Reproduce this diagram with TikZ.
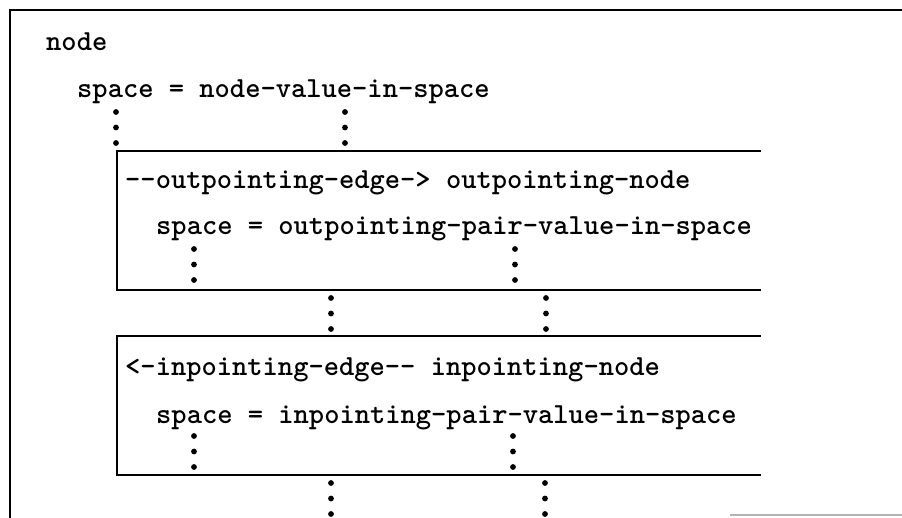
\documentclass[tikz,border=0pt]{standalone}
\usepackage{fontspec}
\newfontfamily\codefont{lmmonolt10-bold.otf}
\usetikzlibrary{positioning}

\begin{document}
\begin{tikzpicture}[
    x=1pt, y=-1pt,
    frame/.style={line width=2.4pt, line cap=rect},
    code/.style={anchor=base west, inner sep=0pt, font=\codefont\fontsize{29.1}{34}\selectfont},
    dot/.style={fill=black}
]
\useasboundingbox (0,0) rectangle (902,517);

% Frames
\draw[frame] (902,10) -- (10,10) -- (10,517);
\draw[frame] (760,151) -- (117,151) -- (117,290) -- (760,290);
\draw[frame] (760,336) -- (117,336) -- (117,475) -- (760,475);
\draw[gray!60, line width=1.4pt] (730,515) -- (902,515);

% Nodes
\node[code] (root) at (46,50) {node};
\node[code] (rootspace) at (77,97) {space = node-value-in-space};

\node[code] (outedge) at (125,188) {--outpointing-edge-> outpointing-node};
\node[code] (outspace) at (156,234) {space = outpointing-pair-value-in-space};

\node[code] (inedge) at (125,375) {<-inpointing-edge-- inpointing-node};
\node[code] (inspace) at (156,423) {space = inpointing-pair-value-in-space};

% Dots
\foreach \x/\y in {116/112, 345/112, 194/249, 515/249, 331/298, 546/298,
                   194/436, 513/436, 331/483, 545/483}
    \foreach \k in {0,1,2}
        \fill[dot] (\x,\y+\k*15.5) circle (2.9);

\end{tikzpicture}
\end{document}
